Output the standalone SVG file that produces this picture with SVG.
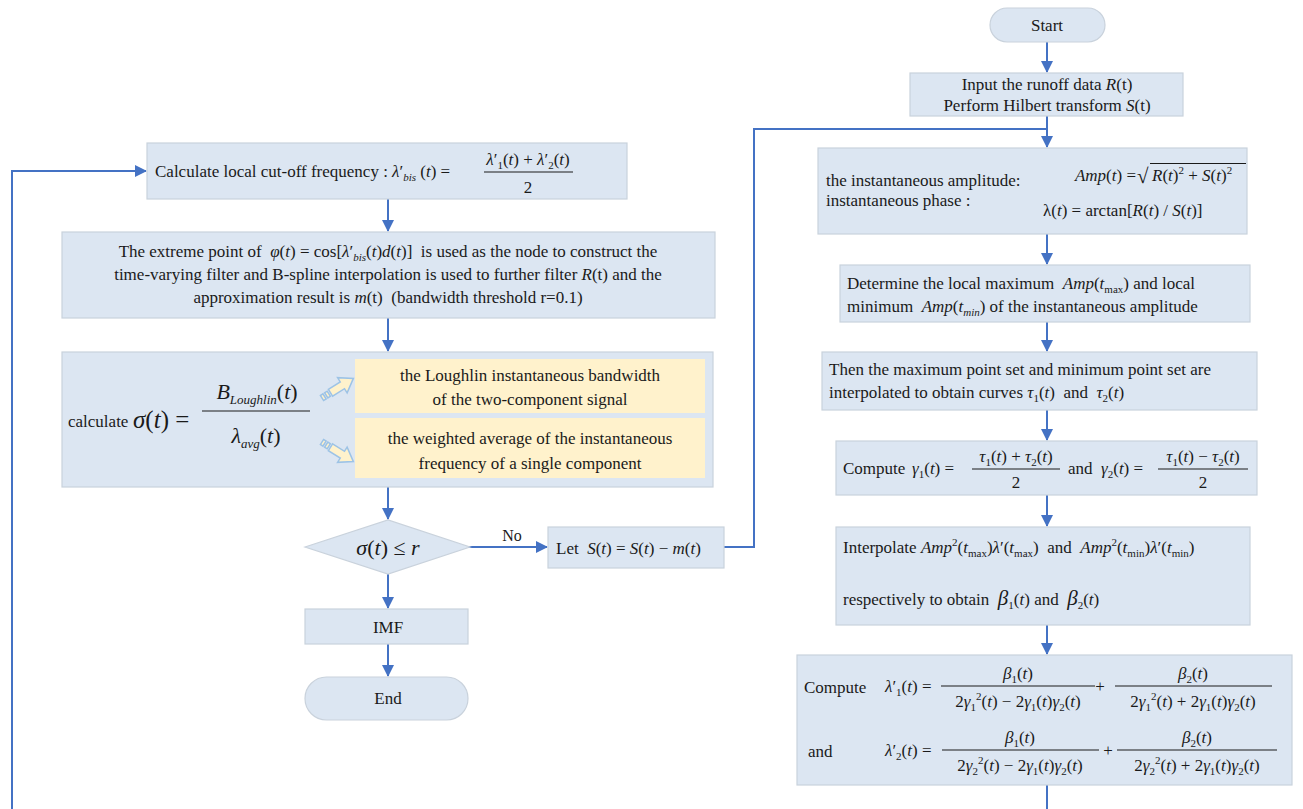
<svg xmlns="http://www.w3.org/2000/svg" width="1303" height="809" viewBox="0 0 1303 809">
<defs>
<marker id="ah" markerUnits="userSpaceOnUse" markerWidth="12" markerHeight="12" refX="11" refY="6" orient="auto">
<path d="M0,0 L12,6 L0,12 z" fill="#4472c4"/>
</marker>
</defs>
<rect width="1303" height="809" fill="#ffffff"/>
<g id="connectors" stroke="#4472c4" stroke-width="2" fill="none">
<path d="M1047 42 V72" marker-end="url(#ah)"/>
<path d="M1047 116 V147" marker-end="url(#ah)"/>
<path d="M724 547 H754 V129 H1047"/>
<path d="M1047 234 V264" marker-end="url(#ah)"/>
<path d="M1047 322 V351" marker-end="url(#ah)"/>
<path d="M1047 410 V440" marker-end="url(#ah)"/>
<path d="M1047 495 V526" marker-end="url(#ah)"/>
<path d="M1047 625 V654" marker-end="url(#ah)"/>
<path d="M1047 785 V809"/>
<path d="M12 809 V171 H146" marker-end="url(#ah)"/>
<path d="M388 199 V231" marker-end="url(#ah)"/>
<path d="M388 318 V351" marker-end="url(#ah)"/>
<path d="M388 487 V519" marker-end="url(#ah)"/>
<path d="M388 574 V608" marker-end="url(#ah)"/>
<path d="M388 644 V676" marker-end="url(#ah)"/>
<path d="M468 547 H547" marker-end="url(#ah)"/>
<text font-family="Liberation Serif" font-size="16" fill="#1a1a1a" stroke="none" x="512" y="541" text-anchor="middle">No</text>
</g>
<g id="start">
<rect x="990" y="8" width="115" height="34" rx="17" fill="#dce6f2" stroke="#c9d2dc" stroke-width="1.2"/>
<text font-family="Liberation Serif" font-size="17" fill="#1a1a1a" x="1047" y="31" text-anchor="middle">Start</text>
</g>
<g id="input">
<rect x="910" y="73" width="273" height="43" fill="#dce6f2" stroke="#c9d2dc" stroke-width="1.2"/>
<text font-family="Liberation Serif" font-size="17" fill="#1a1a1a" x="1047" y="90" text-anchor="middle">Input the runoff data <tspan font-style="italic">R</tspan>(t)</text>
<text font-family="Liberation Serif" font-size="17" fill="#1a1a1a" x="1047" y="111" text-anchor="middle">Perform Hilbert transform <tspan font-style="italic">S</tspan>(t)</text>
</g>
<g id="amplitude">
<rect x="818" y="148" width="429" height="86" fill="#dce6f2" stroke="#c9d2dc" stroke-width="1.2"/>
<text font-family="Liberation Serif" font-size="17" fill="#1a1a1a" x="826" y="186">the instantaneous amplitude:</text>
<text font-family="Liberation Serif" font-size="17" fill="#1a1a1a" x="826" y="206">instantaneous phase :</text>
<text font-family="Liberation Serif" font-size="17" fill="#1a1a1a" x="1136" y="181" text-anchor="end"><tspan font-style="italic">Amp</tspan>(<tspan font-style="italic">t</tspan>) =</text>
<text font-family="Liberation Serif" font-size="21" fill="#1a1a1a" x="1137" y="183">√</text>
<line x1="1150" y1="163.5" x2="1246" y2="163.5" stroke="#1a1a1a" stroke-width="1"/>
<text font-family="Liberation Serif" font-size="17" fill="#1a1a1a" x="1152" y="181"><tspan font-style="italic">R</tspan>(<tspan font-style="italic">t</tspan>)<tspan font-size="11" dy="-7">2</tspan><tspan dy="7"> + </tspan><tspan font-style="italic">S</tspan>(<tspan font-style="italic">t</tspan>)<tspan font-size="11" dy="-7">2</tspan></text>
<text font-family="Liberation Serif" font-size="17" fill="#1a1a1a" x="1043" y="216">λ(<tspan font-style="italic">t</tspan>) = arctan[<tspan font-style="italic">R</tspan>(<tspan font-style="italic">t</tspan>) / <tspan font-style="italic">S</tspan>(<tspan font-style="italic">t</tspan>)]</text>
</g>
<g id="extrema">
<rect x="840" y="265" width="410" height="57" fill="#dce6f2" stroke="#c9d2dc" stroke-width="1.2"/>
<text font-family="Liberation Serif" font-size="17" fill="#1a1a1a" x="847" y="289">Determine the local maximum&#160; <tspan font-style="italic">Amp</tspan>(<tspan font-style="italic">t</tspan><tspan font-size="11" dy="4">max</tspan><tspan dy="-4">) and local</tspan></text>
<text font-family="Liberation Serif" font-size="17" fill="#1a1a1a" x="847" y="312">minimum&#160; <tspan font-style="italic">Amp</tspan>(<tspan font-style="italic">t</tspan><tspan font-size="11" font-style="italic" dy="4">min</tspan><tspan dy="-4">) of the instantaneous amplitude</tspan></text>
</g>
<g id="curves">
<rect x="822" y="352" width="435" height="58" fill="#dce6f2" stroke="#c9d2dc" stroke-width="1.2"/>
<text font-family="Liberation Serif" font-size="17" fill="#1a1a1a" x="829" y="375">Then the maximum point set and minimum point set are</text>
<text font-family="Liberation Serif" font-size="17" fill="#1a1a1a" x="829" y="398">interpolated to obtain curves <tspan font-style="italic">τ</tspan><tspan font-size="11" dy="4">1</tspan><tspan dy="-4">(</tspan><tspan font-style="italic">t</tspan>)&#160; and&#160; <tspan font-style="italic">τ</tspan><tspan font-size="11" dy="4">2</tspan><tspan dy="-4">(</tspan><tspan font-style="italic">t</tspan>)</text>
</g>
<g id="gamma">
<rect x="836" y="441" width="421" height="54" fill="#dce6f2" stroke="#c9d2dc" stroke-width="1.2"/>
<text font-family="Liberation Serif" font-size="17" fill="#1a1a1a" x="843" y="474">Compute</text>
<text font-family="Liberation Serif" font-size="17" fill="#1a1a1a" x="912" y="474"><tspan font-style="italic">γ</tspan><tspan font-size="11" dy="4">1</tspan><tspan dy="-4">(</tspan><tspan font-style="italic">t</tspan>) =</text>
<line x1="972" y1="469" x2="1060" y2="469" stroke="#1a1a1a" stroke-width="1"/>
<text font-family="Liberation Serif" font-size="17" fill="#1a1a1a" x="1016" y="462" text-anchor="middle"><tspan font-style="italic">τ</tspan><tspan font-size="11" dy="4">1</tspan><tspan dy="-4">(</tspan><tspan font-style="italic">t</tspan>) + <tspan font-style="italic">τ</tspan><tspan font-size="11" dy="4">2</tspan><tspan dy="-4">(</tspan><tspan font-style="italic">t</tspan>)</text>
<text font-family="Liberation Serif" font-size="17" fill="#1a1a1a" x="1016" y="488" text-anchor="middle">2</text>
<text font-family="Liberation Serif" font-size="17" fill="#1a1a1a" x="1068" y="474">and</text>
<text font-family="Liberation Serif" font-size="17" fill="#1a1a1a" x="1101" y="474"><tspan font-style="italic">γ</tspan><tspan font-size="11" dy="4">2</tspan><tspan dy="-4">(</tspan><tspan font-style="italic">t</tspan>) =</text>
<line x1="1158" y1="469" x2="1248" y2="469" stroke="#1a1a1a" stroke-width="1"/>
<text font-family="Liberation Serif" font-size="17" fill="#1a1a1a" x="1203" y="462" text-anchor="middle"><tspan font-style="italic">τ</tspan><tspan font-size="11" dy="4">1</tspan><tspan dy="-4">(</tspan><tspan font-style="italic">t</tspan>) − <tspan font-style="italic">τ</tspan><tspan font-size="11" dy="4">2</tspan><tspan dy="-4">(</tspan><tspan font-style="italic">t</tspan>)</text>
<text font-family="Liberation Serif" font-size="17" fill="#1a1a1a" x="1203" y="488" text-anchor="middle">2</text>
</g>
<g id="interpolate">
<rect x="836" y="527" width="414" height="98" fill="#dce6f2" stroke="#c9d2dc" stroke-width="1.2"/>
<text font-family="Liberation Serif" font-size="17" fill="#1a1a1a" x="843" y="553">Interpolate <tspan font-style="italic">Amp</tspan><tspan font-size="11" dy="-7">2</tspan><tspan dy="7">(</tspan><tspan font-style="italic">t</tspan><tspan font-size="11" dy="4">max</tspan><tspan dy="-4">)</tspan><tspan font-style="italic">λ</tspan>′(<tspan font-style="italic">t</tspan><tspan font-size="11" dy="4">max</tspan><tspan dy="-4">)&#160; and&#160; </tspan><tspan font-style="italic">Amp</tspan><tspan font-size="11" dy="-7">2</tspan><tspan dy="7">(</tspan><tspan font-style="italic">t</tspan><tspan font-size="11" dy="4">min</tspan><tspan dy="-4">)</tspan><tspan font-style="italic">λ</tspan>′(<tspan font-style="italic">t</tspan><tspan font-size="11" dy="4">min</tspan><tspan dy="-4">)</tspan></text>
<text font-family="Liberation Serif" font-size="17" fill="#1a1a1a" x="843" y="605">respectively to obtain&#160; <tspan font-style="italic" font-size="21">β</tspan><tspan font-size="11" dy="4">1</tspan><tspan dy="-4">(</tspan><tspan font-style="italic">t</tspan>) and&#160; <tspan font-style="italic" font-size="21">β</tspan><tspan font-size="11" dy="4">2</tspan><tspan dy="-4">(</tspan><tspan font-style="italic">t</tspan>)</text>
</g>
<g id="lambda">
<rect x="797" y="655" width="495" height="130" fill="#dce6f2" stroke="#c9d2dc" stroke-width="1.2"/>
<text font-family="Liberation Serif" font-size="17" fill="#1a1a1a" x="804" y="693">Compute</text>
<text font-family="Liberation Serif" font-size="17" fill="#1a1a1a" x="885" y="692"><tspan font-style="italic">λ</tspan>′<tspan font-size="11" dy="4">1</tspan><tspan dy="-4">(</tspan><tspan font-style="italic">t</tspan>) =</text>
<line x1="941" y1="686" x2="1095" y2="686" stroke="#1a1a1a" stroke-width="1"/>
<text font-family="Liberation Serif" font-size="17" fill="#1a1a1a" x="1018" y="679" text-anchor="middle"><tspan font-style="italic">β</tspan><tspan font-size="11" dy="4">1</tspan><tspan dy="-4">(</tspan><tspan font-style="italic">t</tspan>)</text>
<text font-family="Liberation Serif" font-size="17" fill="#1a1a1a" x="1018" y="707" text-anchor="middle">2<tspan font-style="italic">γ</tspan><tspan font-size="11" dy="4">1</tspan><tspan font-size="11" dy="-11">2</tspan><tspan dy="7">(</tspan><tspan font-style="italic">t</tspan>) − 2<tspan font-style="italic">γ</tspan><tspan font-size="11" dy="4">1</tspan><tspan dy="-4">(</tspan><tspan font-style="italic">t</tspan>)<tspan font-style="italic">γ</tspan><tspan font-size="11" dy="4">2</tspan><tspan dy="-4">(</tspan><tspan font-style="italic">t</tspan>)</text>
<text font-family="Liberation Serif" font-size="17" fill="#1a1a1a" x="1100" y="692" text-anchor="middle">+</text>
<line x1="1115" y1="686" x2="1272" y2="686" stroke="#1a1a1a" stroke-width="1"/>
<text font-family="Liberation Serif" font-size="17" fill="#1a1a1a" x="1193" y="679" text-anchor="middle"><tspan font-style="italic">β</tspan><tspan font-size="11" dy="4">2</tspan><tspan dy="-4">(</tspan><tspan font-style="italic">t</tspan>)</text>
<text font-family="Liberation Serif" font-size="17" fill="#1a1a1a" x="1193" y="707" text-anchor="middle">2<tspan font-style="italic">γ</tspan><tspan font-size="11" dy="4">1</tspan><tspan font-size="11" dy="-11">2</tspan><tspan dy="7">(</tspan><tspan font-style="italic">t</tspan>) + 2<tspan font-style="italic">γ</tspan><tspan font-size="11" dy="4">1</tspan><tspan dy="-4">(</tspan><tspan font-style="italic">t</tspan>)<tspan font-style="italic">γ</tspan><tspan font-size="11" dy="4">2</tspan><tspan dy="-4">(</tspan><tspan font-style="italic">t</tspan>)</text>
<text font-family="Liberation Serif" font-size="17" fill="#1a1a1a" x="808" y="757">and</text>
<text font-family="Liberation Serif" font-size="17" fill="#1a1a1a" x="885" y="756"><tspan font-style="italic">λ</tspan>′<tspan font-size="11" dy="4">2</tspan><tspan dy="-4">(</tspan><tspan font-style="italic">t</tspan>) =</text>
<line x1="942" y1="750" x2="1099" y2="750" stroke="#1a1a1a" stroke-width="1"/>
<text font-family="Liberation Serif" font-size="17" fill="#1a1a1a" x="1020" y="743" text-anchor="middle"><tspan font-style="italic">β</tspan><tspan font-size="11" dy="4">1</tspan><tspan dy="-4">(</tspan><tspan font-style="italic">t</tspan>)</text>
<text font-family="Liberation Serif" font-size="17" fill="#1a1a1a" x="1020" y="771" text-anchor="middle">2<tspan font-style="italic">γ</tspan><tspan font-size="11" dy="4">2</tspan><tspan font-size="11" dy="-11">2</tspan><tspan dy="7">(</tspan><tspan font-style="italic">t</tspan>) − 2<tspan font-style="italic">γ</tspan><tspan font-size="11" dy="4">1</tspan><tspan dy="-4">(</tspan><tspan font-style="italic">t</tspan>)<tspan font-style="italic">γ</tspan><tspan font-size="11" dy="4">2</tspan><tspan dy="-4">(</tspan><tspan font-style="italic">t</tspan>)</text>
<text font-family="Liberation Serif" font-size="17" fill="#1a1a1a" x="1108" y="756" text-anchor="middle">+</text>
<line x1="1117" y1="750" x2="1277" y2="750" stroke="#1a1a1a" stroke-width="1"/>
<text font-family="Liberation Serif" font-size="17" fill="#1a1a1a" x="1197" y="743" text-anchor="middle"><tspan font-style="italic">β</tspan><tspan font-size="11" dy="4">2</tspan><tspan dy="-4">(</tspan><tspan font-style="italic">t</tspan>)</text>
<text font-family="Liberation Serif" font-size="17" fill="#1a1a1a" x="1197" y="771" text-anchor="middle">2<tspan font-style="italic">γ</tspan><tspan font-size="11" dy="4">2</tspan><tspan font-size="11" dy="-11">2</tspan><tspan dy="7">(</tspan><tspan font-style="italic">t</tspan>) + 2<tspan font-style="italic">γ</tspan><tspan font-size="11" dy="4">1</tspan><tspan dy="-4">(</tspan><tspan font-style="italic">t</tspan>)<tspan font-style="italic">γ</tspan><tspan font-size="11" dy="4">2</tspan><tspan dy="-4">(</tspan><tspan font-style="italic">t</tspan>)</text>
</g>
<g id="cutoff">
<rect x="147" y="143" width="480" height="56" fill="#dce6f2" stroke="#c9d2dc" stroke-width="1.2"/>
<text font-family="Liberation Serif" font-size="17" fill="#1a1a1a" x="155" y="177">Calculate local cut-off frequency : <tspan font-style="italic">λ</tspan>′<tspan font-size="11" font-style="italic" dy="4">bis</tspan><tspan dy="-4"> (</tspan><tspan font-style="italic">t</tspan>) =</text>
<line x1="484" y1="172" x2="573" y2="172" stroke="#1a1a1a" stroke-width="1"/>
<text font-family="Liberation Serif" font-size="17" fill="#1a1a1a" x="528" y="165" text-anchor="middle"><tspan font-style="italic">λ</tspan>′<tspan font-size="11" dy="4">1</tspan><tspan dy="-4">(</tspan><tspan font-style="italic">t</tspan>) + <tspan font-style="italic">λ</tspan>′<tspan font-size="11" dy="4">2</tspan><tspan dy="-4">(</tspan><tspan font-style="italic">t</tspan>)</text>
<text font-family="Liberation Serif" font-size="17" fill="#1a1a1a" x="528" y="193" text-anchor="middle">2</text>
</g>
<g id="filter">
<rect x="62" y="232" width="653" height="86" fill="#dce6f2" stroke="#c9d2dc" stroke-width="1.2"/>
<text font-family="Liberation Serif" font-size="17" fill="#1a1a1a" x="388" y="257" text-anchor="middle">The extreme point of&#160; <tspan font-style="italic">φ</tspan>(<tspan font-style="italic">t</tspan>) = cos[<tspan font-style="italic">λ</tspan>′<tspan font-size="11" font-style="italic" dy="4">bis</tspan><tspan dy="-4">(</tspan><tspan font-style="italic">t</tspan>)<tspan font-style="italic">d</tspan>(<tspan font-style="italic">t</tspan>)]&#160; is used as the node to construct the</text>
<text font-family="Liberation Serif" font-size="17" fill="#1a1a1a" x="388" y="280" text-anchor="middle">time-varying filter and B-spline interpolation is used to further filter <tspan font-style="italic">R</tspan>(t) and the</text>
<text font-family="Liberation Serif" font-size="17" fill="#1a1a1a" x="388" y="303" text-anchor="middle">approximation result is <tspan font-style="italic">m</tspan>(t)&#160; (bandwidth threshold r=0.1)</text>
</g>
<g id="sigma">
<rect x="62" y="352" width="651" height="135" fill="#dce6f2" stroke="#c9d2dc" stroke-width="1.2"/>
<text font-family="Liberation Serif" font-size="17" fill="#1a1a1a" x="68" y="427">calculate</text>
<text font-family="Liberation Serif" font-size="25" fill="#1a1a1a" x="133" y="428"><tspan font-style="italic">σ</tspan>(<tspan font-style="italic">t</tspan>) =</text>
<line x1="202" y1="411" x2="310" y2="411" stroke="#1a1a1a" stroke-width="1"/>
<text font-family="Liberation Serif" font-size="22" fill="#1a1a1a" x="257" y="399" text-anchor="middle"><tspan font-style="italic">B</tspan><tspan font-style="italic" font-size="13" dy="5">Loughlin</tspan><tspan dy="-5">(</tspan><tspan font-style="italic">t</tspan>)</text>
<text font-family="Liberation Serif" font-size="22" fill="#1a1a1a" x="256" y="443" text-anchor="middle"><tspan font-style="italic">λ</tspan><tspan font-style="italic" font-size="13" dy="5">avg</tspan><tspan dy="-5">(</tspan><tspan font-style="italic">t</tspan>)</text>
<rect x="355" y="359" width="350" height="54" fill="#fff2cc"/>
<text font-family="Liberation Serif" font-size="17" fill="#1a1a1a" x="530" y="381" text-anchor="middle">the Loughlin instantaneous bandwidth</text>
<text font-family="Liberation Serif" font-size="17" fill="#1a1a1a" x="530" y="405" text-anchor="middle">of the two-component signal</text>
<rect x="355" y="418" width="350" height="60" fill="#fff2cc"/>
<text font-family="Liberation Serif" font-size="17" fill="#1a1a1a" x="530" y="444" text-anchor="middle">the weighted average of the instantaneous</text>
<text font-family="Liberation Serif" font-size="17" fill="#1a1a1a" x="530" y="469" text-anchor="middle">frequency of a single component</text>
<g transform="translate(322,398) rotate(-32)" fill="#fff2cc" stroke="#9dc3e6" stroke-width="1.5">
<rect x="0" y="-3" width="3" height="6"/>
<rect x="5" y="-3" width="3" height="6"/>
<polygon points="10,-4 24,-4 24,-9 37,0 24,9 24,4 10,4"/>
</g>
<g transform="translate(322,442) rotate(32)" fill="#fff2cc" stroke="#9dc3e6" stroke-width="1.5">
<rect x="0" y="-3" width="3" height="6"/>
<rect x="5" y="-3" width="3" height="6"/>
<polygon points="10,-4 24,-4 24,-9 37,0 24,9 24,4 10,4"/>
</g>
</g>
<g id="decision">
<polygon points="305,547 388,520 470,547 388,574" fill="#dce6f2" stroke="#c9d2dc" stroke-width="1.2"/>
<text font-family="Liberation Serif" font-size="22" fill="#1a1a1a" x="388" y="555" text-anchor="middle"><tspan font-style="italic">σ</tspan>(<tspan font-style="italic">t</tspan>) ≤ <tspan font-style="italic">r</tspan></text>
</g>
<g id="update">
<rect x="548" y="527" width="176" height="41" fill="#dce6f2" stroke="#c9d2dc" stroke-width="1.2"/>
<text font-family="Liberation Serif" font-size="17" fill="#1a1a1a" x="556" y="554">Let&#160; <tspan font-style="italic">S</tspan>(<tspan font-style="italic">t</tspan>) = <tspan font-style="italic">S</tspan>(<tspan font-style="italic">t</tspan>) − <tspan font-style="italic">m</tspan>(<tspan font-style="italic">t</tspan>)</text>
</g>
<g id="imf">
<rect x="305" y="609" width="163" height="35" fill="#dce6f2" stroke="#c9d2dc" stroke-width="1.2"/>
<text font-family="Liberation Serif" font-size="17" fill="#1a1a1a" x="388" y="633" text-anchor="middle">IMF</text>
</g>
<g id="end">
<rect x="305" y="677" width="163" height="43" rx="21.5" fill="#dce6f2" stroke="#c9d2dc" stroke-width="1.2"/>
<text font-family="Liberation Serif" font-size="17" fill="#1a1a1a" x="388" y="704" text-anchor="middle">End</text>
</g>
</svg>
